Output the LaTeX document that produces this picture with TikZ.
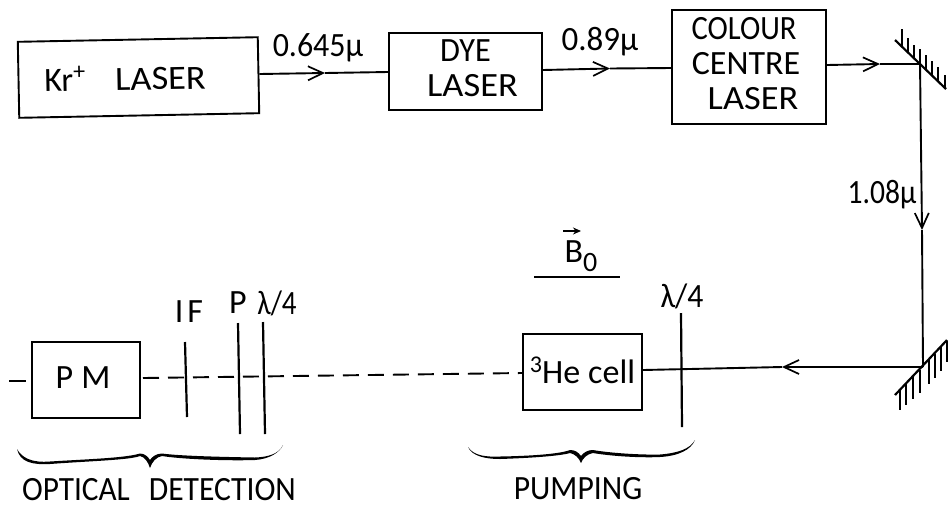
\documentclass[tikz,border=0pt]{standalone}
\usepackage{fontspec}
\setmainfont{Carlito}
\usetikzlibrary{arrows.meta}
\newcommand{\lab}{\fontsize{34}{35}\selectfont}
\newcommand{\sq}[2]{\scalebox{#1}[1]{#2}}
\newcommand{\supr}[2]{\raisebox{#1}{\fontsize{24}{24}\selectfont #2}}
\newcommand{\stk}[1]{\raisebox{0.5pt}{\begin{tabular}{@{}c@{}}#1\end{tabular}}}
\tikzset{
 box/.style={draw=black,line width=1.9pt,inner sep=0pt,font=\lab},
 lab/.style={inner sep=0pt,font=\lab},
 beam/.style={line width=1.9pt},
 dash beam/.style={line width=1.9pt,dash pattern=on 16pt off 9pt},
 plate/.style={line width=2.2pt},
 tipped/.style={-{Straight Barb[length=15pt,width=14pt,line width=1.7pt]}},
 hatch/.style={line width=1.5pt},
 mirror/.style={line width=2.2pt},
}
\begin{document}
\begin{tikzpicture}[x=1pt,y=-1pt]
\useasboundingbox (0,0) rectangle (949,507);
\node[box,minimum width=240pt,minimum height=76pt,rotate=1.1] (kr) at (138.5,77.5) {Kr\supr{12pt}{+}\hspace{30pt}\sq{1.07}{LASER}\kern27pt};
\node[box,minimum width=153pt,minimum height=77pt] (dye) at (465.5,71.5) {\stk{\hbox{\sq{.95}{DYE}}\\\hbox{\kern14pt\sq{1.07}{LASER}}}};
\node[box,minimum width=154pt,minimum height=114pt] (cc) at (749,67) {\stk{\hbox{\sq{.9}{COLOUR}\kern10pt}\\\hbox{CENTRE\kern6pt}\\\hbox{\kern8pt\sq{1.07}{LASER}}}};
\node[box,minimum width=108pt,minimum height=76pt] (pm) at (86,380) {\raisebox{5pt}{P\hspace{8pt}M}\kern6pt};
\node[box,minimum width=119pt,minimum height=76pt] (he) at (582.5,372) {\raisebox{4pt}{\supr{11pt}{3}He\hspace{8pt}cell}};
\node[lab] (l1) at (318,48) {\sq{.94}{0.645μ}};
\node[lab] (l2) at (600,42) {\sq{.97}{0.89μ}};
\node[lab] (l3) at (882,195) {\sq{.87}{1.08μ}};
\node[lab] (b0) at (581,256) {B\raisebox{-9pt}{\fontsize{28}{28}\selectfont 0}};
\node[lab] (qw) at (682,296) {\sq{.93}{λ/4}};
\node[lab] (if) at (189,312) {I\hspace{4pt}F};
\node[lab] (p) at (238,303) {P};
\node[lab] (qd) at (277,303) {\sq{.85}{λ/4}};
\node[lab] (od) at (159,489.5) {\sq{.92}{OPTICAL}\hspace{19pt}\sq{.93}{DETECTION}};
\node[lab] (pu) at (578,489) {\sq{.93}{PUMPING}};
% coordinates
\coordinate (m1) at (920,64);
\coordinate (m2) at (923,367);
\coordinate (a1) at (325,73);
\coordinate (a2) at (610,68.5);
\coordinate (a3) at (880,64);
\coordinate (a4) at (922,230);
\coordinate (a5) at (782,367);
% beams
\draw[beam,tipped] (kr.east |- 0,74) -- (a1);
\draw[beam] (a1) -- (dye.west |- 0,72);
\draw[beam,tipped] (dye.east |- 0,70) -- (a2);
\draw[beam] (a2) -- (cc.west |- 0,68);
\draw[beam,tipped] (cc.east |- 0,65) -- (a3);
\draw[beam] (a3) -- (m1);
\draw[beam,tipped] (m1) -- (a4);
\draw[beam] (a4) -- (m2);
\draw[beam,tipped] (m2) -- (a5);
\draw[beam] (a5) -- (he.east |- 0,370);
% dashed
\coordinate (d0) at (9,381);
\coordinate (d1) at (26,381);
\coordinate (d2) at (143,378);
\draw[beam] (d0) -- (d1);
\draw[dash beam] (d2) -- (he.west |- 0,373);
% plates
\coordinate (q1) at (681,313); \coordinate (q2) at (682,427);
\draw[plate] (q1) -- (q2);
\coordinate (i1) at (185,342); \coordinate (i2) at (187,417);
\draw[plate] (i1) -- (i2);
\coordinate (p1) at (238,323); \coordinate (p2) at (240,434);
\draw[plate] (p1) -- (p2);
\coordinate (r1) at (263,322); \coordinate (r2) at (265,434);
\draw[plate] (r1) -- (r2);
% B0
\coordinate (b1) at (534,277); \coordinate (b2) at (620,277);
\draw[line width=1.7pt] (b1) -- (b2);
\coordinate (v1) at (563,231); \coordinate (v2) at (581,231);
\draw[line width=1.4pt,-{Stealth[length=8pt,width=7pt]}] (v1) -- (v2);
% top mirror
\coordinate (t1) at (895,40); \coordinate (t2) at (946,89);
\draw[mirror] (t1) -- (t2);
\foreach \a/\b/\c in {902/47/29,908/53/38,914/58/45,920/64/49,926/70/55,932/76/61,938/81/67,945/88/75}{
 \draw[hatch] (\a,\b) -- (\a,\c);
}
% bottom mirror
\coordinate (u1) at (895,395); \coordinate (u2) at (947,340);
\draw[mirror] (u1) -- (u2);
\foreach \a/\b/\c in {900/390/410,906/384/405,913/377/399,920/370/393,929/360/384,935/354/378,941/347/371,947/341/362}{
 \draw[hatch] (\a,\b) -- (\a,\c);
}
% braces
\fill (17,449) .. controls (20,462) and (32,465) .. (50,464) .. controls (90,461) and (130,460) .. (140,456) .. controls (145,457) and (148,462) .. (150,468)
 .. controls (152,462) and (156,457) .. (162,456) .. controls (180,459) and (225,461) .. (255,460) .. controls (270,459) and (280,452) .. (283,445)
 .. controls (279,454) and (268,457) .. (255,457.5) .. controls (225,457) and (180,456) .. (162,453.5) .. controls (156,453.5) and (152,457) .. (150,460)
 .. controls (148,457) and (145,453.5) .. (140,453.5) .. controls (125,458) and (90,459) .. (50,461.5) .. controls (32,463) and (22,458) .. (17,449) -- cycle;
\fill (468,447) .. controls (472,456) and (485,459) .. (500,459) .. controls (530,458) and (560,456) .. (570,453) .. controls (575,454) and (579,458) .. (581,463)
 .. controls (583,458) and (587,454) .. (593,453) .. controls (610,456) and (640,458) .. (660,457) .. controls (678,456) and (691,450) .. (695,440)
 .. controls (690,449) and (678,453) .. (660,454.5) .. controls (640,455) and (610,453) .. (593,450) .. controls (588,450) and (584,452) .. (581,456)
 .. controls (578,452) and (575,450) .. (570,450) .. controls (560,454) and (530,456) .. (500,456.5) .. controls (486,457) and (474,456) .. (468,447) -- cycle;
\end{tikzpicture}
\end{document}
